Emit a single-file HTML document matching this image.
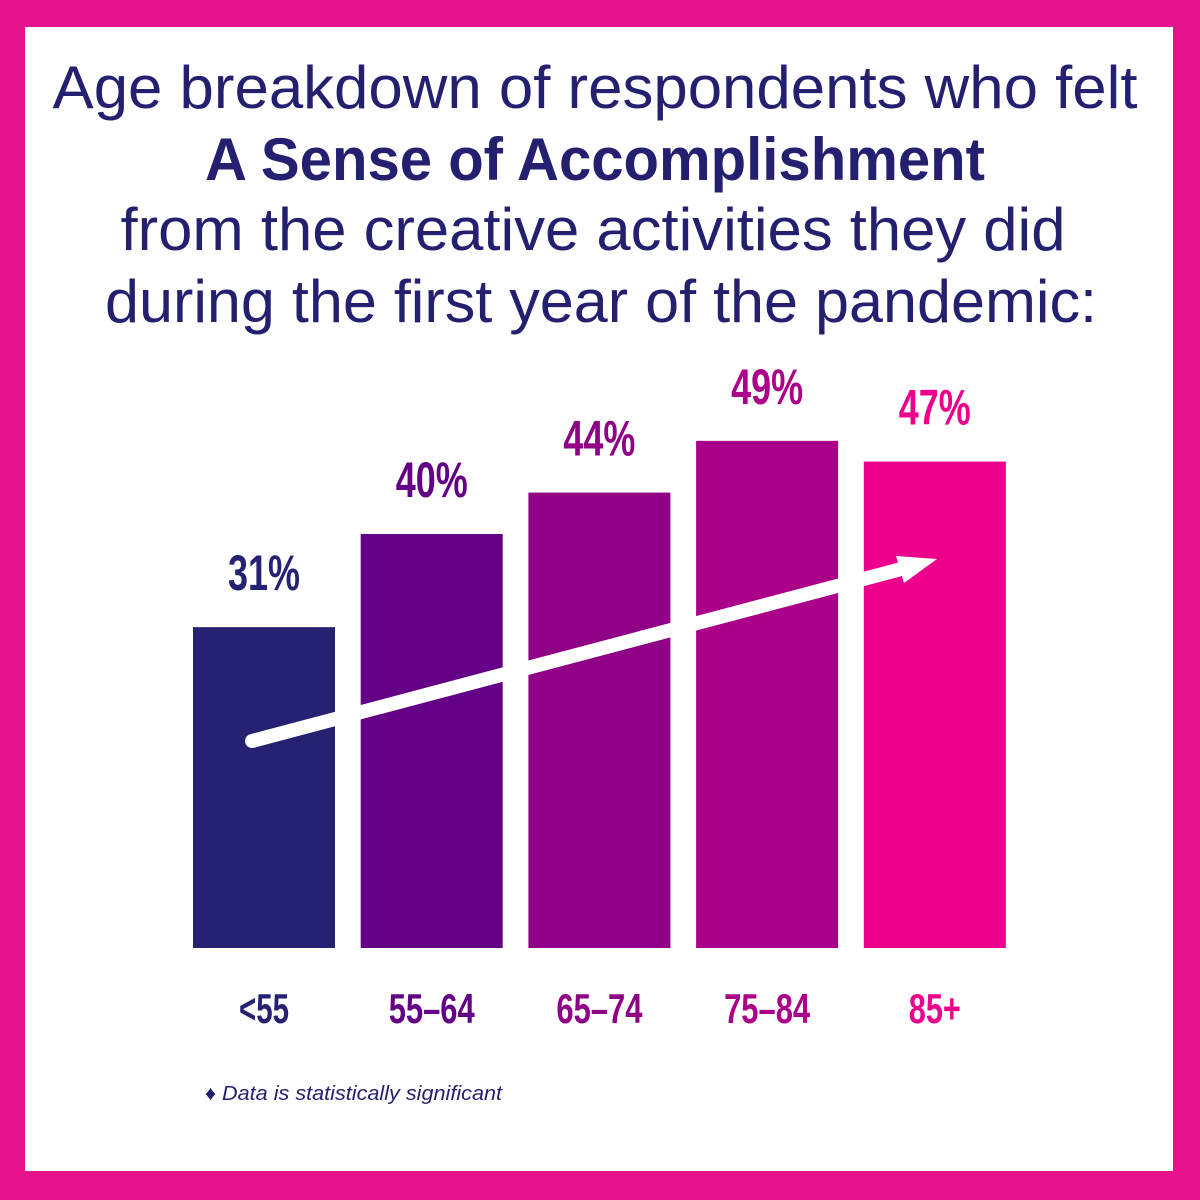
<!DOCTYPE html>
<html><head><meta charset="utf-8"><style>
html,body{margin:0;padding:0;background:#fff}
svg{display:block}
text{font-family:"Liberation Sans",sans-serif}
</style></head><body>
<svg id="chart" width="1200" height="1200" viewBox="0 0 1200 1200">
<rect x="0" y="0" width="1200" height="1200" fill="#e8118c"/>
<rect x="25" y="27" width="1148" height="1144" fill="#ffffff"/>
<g fill="#24206f">
<text x="595" y="108" font-size="60" text-anchor="middle" textLength="1085" lengthAdjust="spacingAndGlyphs">Age breakdown of respondents who felt</text>
<text x="595" y="180" font-size="60" font-weight="bold" text-anchor="middle" textLength="780" lengthAdjust="spacingAndGlyphs">A Sense of Accomplishment</text>
<text x="593" y="250" font-size="60" text-anchor="middle" textLength="945" lengthAdjust="spacingAndGlyphs">from the creative activities they did</text>
<text x="601" y="322" font-size="60" text-anchor="middle" textLength="992" lengthAdjust="spacingAndGlyphs">during the first year of the pandemic:</text>
</g>
<g id="bars"></g>
<g id="arrow">
<line x1="252" y1="741" x2="905" y2="568" stroke="#fff" stroke-width="14" stroke-linecap="round"/>
<polygon points="896,556 937,559 904,583" fill="#fff"/>
</g>
<text x="205" y="1100" font-size="20" font-style="italic" fill="#24206f" textLength="297" lengthAdjust="spacingAndGlyphs">♦ Data is statistically significant</text>
</svg>
<script>
const categories = ["<55","55–64","65–74","75–84","85+"];
const values = [31,40,44,49,47];
const valueLabels = ["31%","40%","44%","49%","47%"];
const colors = ["#262272","#640085","#8f0087","#ab0089","#ec008c"];
const baseY = 948, pxPerPct = 10.35, x0 = 193, step = 167.7, barW = 142;
const yScale = v => baseY - v * pxPerPct;
const xScale = i => x0 + i * step;
const ns = "http://www.w3.org/2000/svg";
const g = document.getElementById("bars");
categories.forEach((c, i) => {
  const x = xScale(i), top = yScale(values[i]), cx = x + barW / 2;
  const r = document.createElementNS(ns, "rect");
  r.setAttribute("x", x); r.setAttribute("y", top);
  r.setAttribute("width", barW); r.setAttribute("height", baseY - top);
  r.setAttribute("fill", colors[i]);
  
  
  g.appendChild(r);
  const t = document.createElementNS(ns, "text");
  t.setAttribute("x", cx); t.setAttribute("y", top - 37);
  t.setAttribute("text-anchor", "middle"); t.setAttribute("font-size", "50");
  t.setAttribute("font-weight", "bold"); t.setAttribute("fill", colors[i]);
  t.setAttribute("textLength", "72"); t.setAttribute("lengthAdjust", "spacingAndGlyphs");
  t.textContent = valueLabels[i];
  
  
  g.appendChild(t);
  const l = document.createElementNS(ns, "text");
  l.setAttribute("x", cx); l.setAttribute("y", 1023);
  l.setAttribute("text-anchor", "middle"); l.setAttribute("font-size", "42");
  l.setAttribute("font-weight", "bold"); l.setAttribute("fill", colors[i]);
  l.setAttribute("textLength", c.length <= 3 ? (c === "85+" ? "52" : "50") : "86");
  l.setAttribute("lengthAdjust", "spacingAndGlyphs");
  l.textContent = c;
  
  
  g.appendChild(l);
});
</script>
</body></html>
